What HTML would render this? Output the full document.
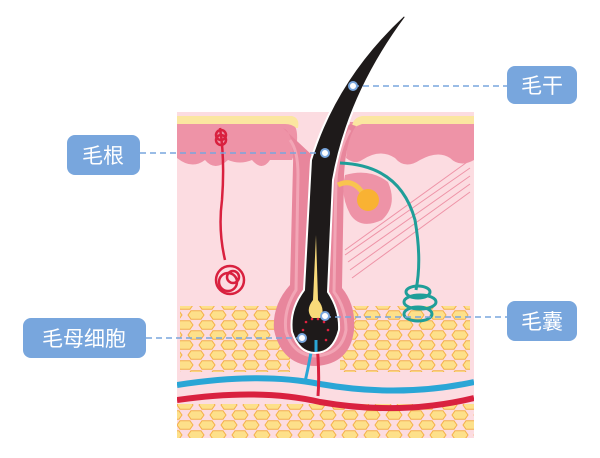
<!DOCTYPE html>
<html><head><meta charset="utf-8"><style>
html,body{margin:0;padding:0;background:#fff;}
svg{display:block}
.lb{fill:#78A6DD}
.t{font-family:"Liberation Sans","Noto Sans CJK SC",sans-serif;font-size:21px;fill:#fff}
</style></head><body>
<svg width="600" height="458" viewBox="0 0 600 458" xmlns="http://www.w3.org/2000/svg">
<defs>
<pattern id="hex" x="0" y="0" width="22" height="20" patternUnits="userSpaceOnUse">
<polygon points="1,5 4,0.8 14,0.8 17,5 14,9.2 4,9.2" fill="#FDE08A" stroke="#F4B04A" stroke-width="1"/>
<polygon points="12,15 15,10.8 25,10.8 28,15 25,19.2 15,19.2" fill="#FDE08A" stroke="#F4B04A" stroke-width="1"/>
<polygon points="-10,15 -7,10.8 3,10.8 6,15 3,19.2 -7,19.2" fill="#FDE08A" stroke="#F4B04A" stroke-width="1"/>
</pattern>
<clipPath id="skin"><rect x="177" y="112" width="297" height="326"/></clipPath>
</defs>
<g clip-path="url(#skin)">
<rect x="177" y="112" width="297" height="326" fill="#FCDCE1"/>
<rect x="180" y="306" width="110" height="66" fill="url(#hex)"/>
<rect x="340" y="306" width="130" height="66" fill="url(#hex)"/>
<rect x="177" y="404" width="297" height="36" fill="url(#hex)"/>
<path d="M177,122 L290,122 Q300,125 296,150 L292,160 Q280,160 270,160 Q262,172 252,160 Q240,165 228,160 Q215,172 205,160 Q192,170 177,158 Z" fill="#EE93A7"/>
<path d="M350,122 L474,122 L474,160 Q460,168 450,158 Q438,150 420,160 Q405,170 395,158 Q380,148 362,160 Q355,165 346,158 Z" fill="#EE93A7"/>
<path d="M177,116 L292,116 Q300,118 298,128 L296,128 Q292,124 285,124 L177,124 Z" fill="#FBE6A0"/>
<path d="M352,128 Q352,118 362,116 L474,116 L474,124 L362,124 Z" fill="#FBE6A0"/>
<g stroke="#EE93A7" stroke-width="1" fill="none">
<path d="M345,250 L470,160"/><path d="M345,255 L470,168"/><path d="M348,262 L470,176"/><path d="M350,270 L470,184"/><path d="M352,278 L470,192"/>
</g>
<path d="M283,128 Q294,132 293,165 L290,285 Q272,305 274,330 Q282,366 316,366 Q350,364 354,330 Q356,305 342,288 L344,175 Q346,140 356,126 L350,124 Q330,140 328,170 Z" fill="#E8869C"/>
<path d="M290,140 Q298,150 298,175 L296,290 Q283,310 286,332 Q294,356 316,356 Q342,354 346,330 Q346,308 334,292 L336,180 Q338,150 350,130" fill="none" stroke="#F2A6B6" stroke-width="3"/>
<path d="M345,175 Q370,168 388,182 Q398,205 382,220 Q360,230 350,214 Q340,195 345,175 Z" fill="#EE93A7"/>
<path d="M338,185 Q352,178 362,192" stroke="#F9C44F" stroke-width="5" fill="none"/>
<circle cx="368" cy="200" r="11" fill="#F9B233"/>
<path d="M177,385 Q260,372 320,384 Q400,398 474,382" stroke="#2AA6D6" stroke-width="6" fill="none"/>
<path d="M177,400 Q260,388 320,402 Q400,416 474,398" stroke="#D9213F" stroke-width="6" fill="none"/>
<path d="M305,382 Q310,360 314,335" stroke="#2AA6D6" stroke-width="3" fill="none"/>
<path d="M318,396 Q320,370 316,335" stroke="#D9213F" stroke-width="3" fill="none"/>
<path d="M220,128 Q225,160 222,200 Q218,230 225,260" stroke="#D9213F" stroke-width="2.5" fill="none"/>
<g stroke="#D9213F" stroke-width="2.5" fill="none"><circle cx="221" cy="135" r="5"/><circle cx="221" cy="140" r="5"/>
<circle cx="230" cy="280" r="14"/><circle cx="228" cy="282" r="9"/><circle cx="233" cy="277" r="6"/></g>
<path d="M340,163 Q400,165 415,220 Q422,260 416,290" stroke="#1F9E99" stroke-width="3" fill="none"/>
<g stroke="#1F9E99" stroke-width="3" fill="none"><ellipse cx="418" cy="292" rx="12" ry="6"/><ellipse cx="420" cy="302" rx="16" ry="7"/><ellipse cx="418" cy="314" rx="14" ry="7"/></g>
</g>
<path d="M404,15 Q336,78 311,160 L304,290 Q289,310 292,332 Q299,353 315,353 Q333,353 339,330 Q340,310 328,292 L333,180 Q348,95 406,17 Z" fill="#1E1A1A" stroke="#fff" stroke-width="2" stroke-linejoin="round"/>
<path d="M316,235 L313,300 Q305,310 312,318 L320,318 Q326,310 318,300 Z" fill="#F9DA7A"/>
<g fill="#E0203E"><circle cx="306" cy="322" r="1.3"/><circle cx="312" cy="319" r="1.3"/><circle cx="318" cy="319" r="1.3"/><circle cx="324" cy="322" r="1.3"/><circle cx="303" cy="330" r="1.3"/><circle cx="328" cy="330" r="1.3"/><circle cx="305" cy="340" r="1.3"/><circle cx="326" cy="340" r="1.3"/></g>
<path d="M316,352 L316,340" stroke="#2AA6D6" stroke-width="3"/>
<g stroke="#78A6DD" stroke-width="1.5" stroke-dasharray="6,4" fill="none">
<line x1="353" y1="86" x2="507" y2="86"/>
<line x1="140" y1="153" x2="325" y2="153"/>
<line x1="325" y1="317" x2="507" y2="317"/>
<line x1="146" y1="338" x2="302" y2="338"/>
</g>
<g fill="#fff" stroke="#78A6DD" stroke-width="2">
<circle cx="353" cy="86" r="4"/><circle cx="325" cy="153" r="4"/><circle cx="325" cy="316" r="4"/><circle cx="302" cy="338" r="4"/>
</g>
<rect class="lb" x="507" y="66" width="70" height="38" rx="8"/><text class="t" x="542" y="93" text-anchor="middle">毛干</text>
<rect class="lb" x="67" y="135" width="73" height="40" rx="8"/><text class="t" x="103" y="163" text-anchor="middle">毛根</text>
<rect class="lb" x="507" y="301" width="70" height="40" rx="8"/><text class="t" x="542" y="329" text-anchor="middle">毛囊</text>
<rect class="lb" x="23" y="318" width="123" height="40" rx="8"/><text class="t" x="84" y="346" text-anchor="middle">毛母细胞</text>
</svg>
</body></html>
